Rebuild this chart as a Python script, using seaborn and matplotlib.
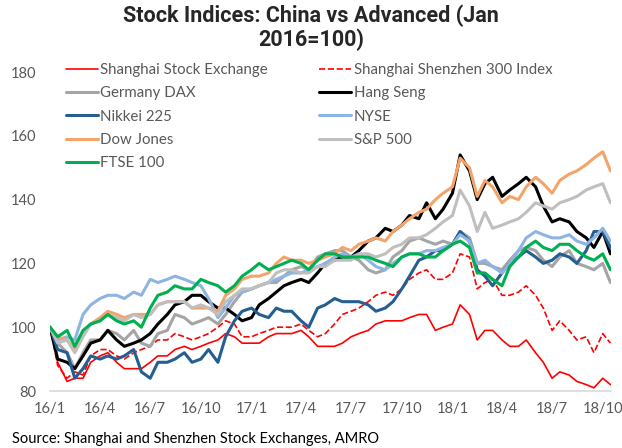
import matplotlib
matplotlib.use('Agg')
import matplotlib.pyplot as plt
import pandas as pd
import seaborn as sns

# semi-monthly readings (1st and 15th of each month), Jan 2016 = 100
dates = pd.date_range('2016-01-01', '2018-10-15', freq='SMS')

shanghai = [100, 89, 83, 84, 84, 89, 91, 92, 89, 87, 87, 87,
            89, 91, 91, 93, 94, 93, 94, 95, 96, 98, 97, 95,
            95, 95, 97, 98, 98, 98, 99, 97, 94, 94, 94, 95,
            97, 98, 99, 101, 102, 102, 102, 103, 104, 104, 99, 100,
            101, 107, 104, 96, 99, 99, 96, 94, 94, 96, 92, 89,
            84, 86, 85, 83, 82, 81, 84, 82]
shsz300 = [100, 88, 84, 86, 85, 91, 93, 93, 91, 90, 92, 93,
           94, 96, 96, 98, 97, 96, 97, 98, 100, 102, 101, 97,
           97, 98, 99, 100, 100, 100, 101, 99, 97, 98, 101, 104,
           105, 106, 108, 110, 111, 110, 112, 115, 117, 118, 115, 115,
           117, 123, 122, 112, 114, 115, 110, 110, 111, 113, 110, 106,
           99, 102, 99, 96, 97, 92, 98, 95]
dax = [100, 95, 92, 87, 92, 96, 96, 99, 98, 96, 99, 95,
       94, 98, 99, 104, 103, 101, 102, 103, 101, 104, 108, 111,
       112, 113, 114, 114, 116, 118, 119, 118, 122, 123, 124, 124,
       122, 121, 118, 117, 118, 122, 124, 127, 128, 127, 126, 127,
       126, 130, 128, 120, 120, 119, 118, 121, 124, 125, 124, 121,
       119, 122, 124, 120, 119, 118, 120, 114]
hang_seng = [100, 90, 89, 87, 91, 95, 96, 99, 96, 94, 95, 96,
             98, 101, 104, 107, 108, 110, 110, 108, 106, 106, 104, 102,
             103, 107, 109, 111, 113, 114, 115, 114, 117, 120, 121, 122,
             122, 124, 127, 128, 131, 130, 132, 135, 134, 139, 134, 137,
             142, 154, 149, 140, 145, 147, 141, 143, 145, 147, 144, 138,
             133, 134, 133, 130, 128, 125, 130, 123]
nikkei = [100, 93, 92, 84, 87, 91, 90, 91, 90, 91, 93, 86,
          84, 89, 89, 90, 92, 89, 90, 93, 89, 97, 102, 105,
          106, 104, 103, 106, 105, 105, 102, 100, 106, 107, 109, 108,
          108, 108, 107, 105, 106, 108, 112, 116, 121, 122, 124, 124,
          126, 130, 127, 118, 116, 113, 117, 120, 122, 124, 122, 120,
          121, 123, 122, 120, 124, 130, 130, 125]
nyse = [100, 96, 97, 96, 104, 107, 109, 110, 110, 109, 111, 110,
        115, 114, 115, 116, 115, 114, 113, 109, 103, 106, 110, 111,
        112, 113, 114, 115, 116, 117, 117, 118, 119, 120, 122, 123,
        122, 123, 121, 119, 118, 120, 122, 123, 123, 124, 124, 125,
        126, 129, 127, 120, 121, 119, 117, 120, 124, 128, 130, 129,
        128, 128, 129, 127, 126, 128, 131, 127]
dow_jones = [100, 97, 96, 93, 98, 101, 103, 105, 104, 103, 104, 104,
             104, 107, 108, 108, 108, 106, 106, 106, 105, 110, 112, 115,
             116, 116, 117, 120, 122, 121, 121, 120, 121, 122, 123, 125,
             124, 126, 127, 128, 127, 130, 132, 134, 136, 137, 140, 142,
             144, 153, 150, 141, 146, 144, 139, 141, 140, 144, 147, 145,
             142, 146, 148, 149, 151, 153, 155, 149]
sp500 = [100, 95, 96, 92, 97, 101, 102, 104, 103, 102, 104, 103,
         104, 107, 108, 108, 108, 106, 107, 106, 104, 108, 110, 112,
         112, 113, 114, 117, 118, 118, 117, 117, 119, 119, 121, 121,
         121, 123, 123, 122, 123, 125, 126, 128, 128, 129, 131, 133,
         135, 143, 138, 130, 136, 131, 132, 133, 134, 136, 139, 138,
         137, 139, 140, 141, 143, 144, 145, 139]
ftse = [100, 97, 99, 94, 99, 101, 102, 104, 102, 101, 102, 100,
        106, 110, 111, 113, 112, 112, 115, 114, 113, 111, 113, 116,
        118, 120, 118, 119, 120, 121, 120, 118, 121, 123, 123, 122,
        122, 122, 122, 121, 120, 119, 122, 123, 123, 122, 122, 124,
        126, 127, 125, 117, 117, 115, 113, 119, 122, 125, 127, 125,
        124, 126, 126, 124, 122, 121, 123, 118]

series = {
    'Shanghai Stock Exchange': shanghai,
    'Shanghai Shenzhen 300 Index': shsz300,
    'Germany DAX': dax,
    'Hang Seng': hang_seng,
    'Nikkei 225': nikkei,
    'NYSE': nyse,
    'Dow Jones': dow_jones,
    'S&P 500': sp500,
    'FTSE 100': ftse,
}
colors = {
    'Shanghai Stock Exchange': '#FF0000',
    'Shanghai Shenzhen 300 Index': '#FF0000',
    'Germany DAX': '#A5A5A5',
    'Hang Seng': '#000000',
    'Nikkei 225': '#255E91',
    'NYSE': '#8DB4E2',
    'Dow Jones': '#F4A46A',
    'S&P 500': '#BFBFBF',
    'FTSE 100': '#00B050',
}

tick_dates = pd.to_datetime(['2016-01-01', '2016-04-01', '2016-07-01', '2016-10-01',
                             '2017-01-01', '2017-04-01', '2017-07-01', '2017-10-01',
                             '2018-01-01', '2018-04-01', '2018-07-01', '2018-10-01'])
tick_labels = ['16/1', '16/4', '16/7', '16/10', '17/1', '17/4', '17/7', '17/10',
               '18/1', '18/4', '18/7', '18/10']

sns.set_style('white')
plt.rcParams['font.family'] = ['Lato', 'DejaVu Sans']

fig = plt.figure(figsize=(6.22, 4.48), dpi=100)
ax = fig.add_axes([50 / 622, 57 / 448, 561 / 622, 319 / 448])

for name, values in series.items():
    df = pd.DataFrame({'date': dates, 'value': values})
    lw = 1.2 if name.startswith('Shanghai') else 2.2
    ls = '--' if name == 'Shanghai Shenzhen 300 Index' else '-'
    sns.lineplot(data=df, x='date', y='value', ax=ax, color=colors[name],
                 linewidth=lw, linestyle=ls, label=name)

ax.set_ylim(80, 180)
ax.set_yticks([80, 100, 120, 140, 160, 180])
ax.set_xlim(pd.Timestamp('2016-01-01'), pd.Timestamp('2018-10-16'))
ax.set_xticks(tick_dates)
ax.set_xticklabels(tick_labels)
ax.tick_params(axis='both', length=0, labelsize=10.5, colors='#595959')
ax.tick_params(axis='y', pad=10)
ax.tick_params(axis='x', pad=8)
ax.set_xlabel('')
ax.set_ylabel('')
for side in ['top', 'right', 'left']:
    ax.spines[side].set_visible(False)
ax.spines['bottom'].set_color('#D9D9D9')
ax.spines['bottom'].set_linewidth(1.2)

handles, labels = ax.get_legend_handles_labels()
order = [0, 2, 4, 6, 8, 1, 3, 5, 7]
ax.legend([handles[i] for i in order], [labels[i] for i in order],
          ncol=2, frameon=False, loc='upper left',
          bbox_to_anchor=(66 / 622, 1 - 63 / 448), bbox_transform=fig.transFigure,
          fontsize=10.8, labelcolor='#595959', handlelength=2.1, handletextpad=0.2,
          labelspacing=0.62, columnspacing=3.4, borderpad=0, borderaxespad=0)

fig.text(0.5, 0.99, 'Stock Indices: China vs Advanced (Jan\n2016=100)',
         ha='center', va='top', fontsize=15.5, fontweight='bold', linespacing=1.1,
         family=['Roboto', 'Liberation Sans', 'DejaVu Sans'])
fig.text(12 / 622, 0.005, 'Source: Shanghai and Shenzhen Stock Exchanges, AMRO',
         ha='left', va='bottom', fontsize=10.5, color='#000000')

plt.savefig('out.png', dpi=100)
